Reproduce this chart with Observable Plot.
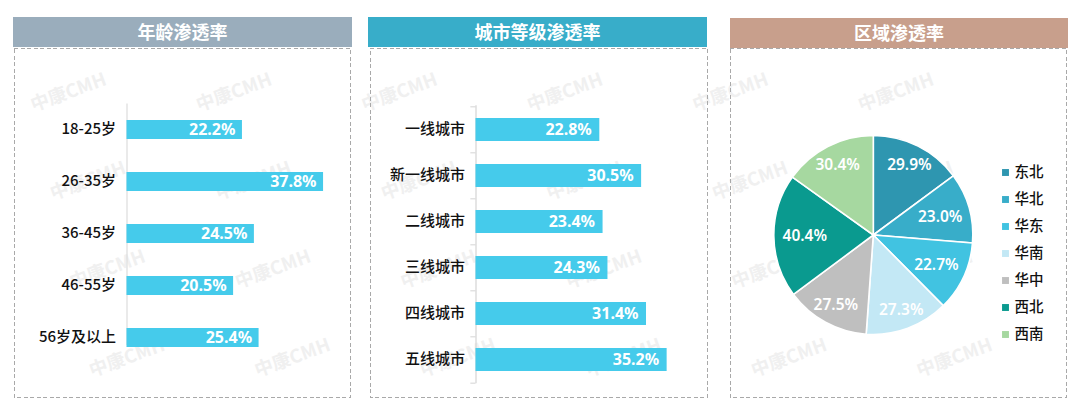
<!DOCTYPE html>
<html lang="zh">
<head>
<meta charset="utf-8">
<style>
html,body{margin:0;padding:0;background:#fff;}
#page{position:relative;width:1080px;height:410px;overflow:hidden;font-family:"Noto Sans CJK SC","Noto Sans",sans-serif;}
#page svg{position:absolute;top:0;background:transparent;overflow:visible;}
.head{position:absolute;height:30px;line-height:29px;text-align:center;color:#fff;font-size:18px;font-weight:700;}
</style>
</head>
<body>
<div id="page"></div>
<script src="https://cdn.jsdelivr.net/npm/d3@7"></script>
<script src="https://cdn.jsdelivr.net/npm/@observablehq/plot@0.6"></script>
<script>
// ---- data ----
const ageGroups = ["18-25岁", "26-35岁", "36-45岁", "46-55岁", "56岁及以上"];
const ageRates = [22.2, 37.8, 24.5, 20.5, 25.4];
const cityTiers = ["一线城市", "新一线城市", "二线城市", "三线城市", "四线城市", "五线城市"];
const cityRates = [22.8, 30.5, 23.4, 24.3, 31.4, 35.2];
const regions = ["东北", "华北", "华东", "华南", "华中", "西北", "西南"];
const regionRates = [29.9, 23.0, 22.7, 27.3, 27.5, 40.4, 30.4];
const titles = ["年龄渗透率", "城市等级渗透率", "区域渗透率"];
const watermark = "中康CMH";

// ---- styles ----
const barColor = "#45CBEB";
const regionColors = ["#2E96B0", "#38ADC9", "#41C3E1", "#C3E8F5", "#BFBFBF", "#0A9A8F", "#A6D8A0"];
const headColors = ["#9AADBC", "#38ADC9", "#C89F8C"];
const latin = "'Noto Sans','Noto Sans CJK SC',sans-serif";
const cjk = "'Noto Sans CJK SC','Noto Sans',sans-serif";
const page = document.getElementById("page");
const fmt = v => v.toFixed(1) + "%";

function place(el, left) { el.style.left = left + "px"; page.appendChild(el); return el; }

// ---- watermark and dashed panel frames, behind everything ----
const stamps = d3.cross(d3.range(0, 6), d3.range(0, 4)).map(([i, j]) => ({i, j}));
const frames = [{x1: 14, x2: 350}, {x1: 370, x2: 707}, {x1: 730, x2: 1066}];
place(Plot.plot({
  width: 1080, height: 410, margin: 0,
  x: {domain: [0, 1080], range: [0, 1080], axis: null},
  y: {domain: [0, 410], range: [0, 410], axis: null},
  marks: [
    Plot.text(stamps, {
      x: d => 68 + 165.5 * d.i + 19.5 * d.j,
      y: d => 92 + 88.5 * d.j,
      text: () => watermark, rotate: -20, fontSize: 18.5, fontWeight: 700,
      fill: "#f0f0f0", fontFamily: cjk
    }),
    Plot.rect(frames, {x1: "x1", x2: "x2", y1: () => 48, y2: () => 397,
      fill: "none", stroke: "#a9a9a9", strokeWidth: 1, strokeDasharray: "4,2.5", shapeRendering: "crispEdges"})
  ]
}), 0);

// ---- panel headings ----
[[13, 17, 339], [368, 17, 339], [730, 18, 338]].forEach(([l, t, w], k) => {
  const h = document.createElement("div");
  h.className = "head"; h.textContent = titles[k];
  h.style.cssText = `left:${l}px;top:${t}px;width:${w}px;background:${headColors[k]}`;
  page.appendChild(h);
});

// ---- age bars ----
const ageData = ageGroups.map((k, i) => ({k, v: ageRates[i]}));
place(Plot.plot({
  width: 360, height: 410,
  marginLeft: 126.5, marginTop: 103.5, marginBottom: 46.5, marginRight: 25.5,
  x: {domain: [0, 40], axis: null},
  y: {domain: ageGroups, paddingInner: 0.635, paddingOuter: 0.3175, label: null},
  style: {fontFamily: cjk},
  marks: [
    Plot.ruleX([0], {stroke: "#dcdcdc", strokeWidth: 1.2, insetBottom: 18.5}),
    Plot.barX(ageData, {x: "v", y: "k", fill: barColor}),
    Plot.axisY({tickSize: 0, tickPadding: 11, fontSize: 15, fontWeight: 500, fill: "#111", label: null, dy: -0.5}),
    Plot.text(ageData, {x: "v", y: "k", text: d => fmt(d.v), dx: -7, textAnchor: "end",
      fill: "#fff", fontSize: 16, fontWeight: 700, fontFamily: latin})
  ]
}), 0);

// ---- city bars ----
const cityData = cityTiers.map((k, i) => ({k, v: cityRates[i]}));
const halfStep = 23.17;
place(Plot.plot({
  width: 360, height: 410,
  marginLeft: 115.5, marginTop: 105.3, marginBottom: 26.7, marginRight: 27.3,
  x: {domain: [0, 40], axis: null},
  y: {domain: cityTiers, paddingInner: 0.51, paddingOuter: 0.255, label: null},
  style: {fontFamily: cjk},
  marks: [
    Plot.ruleX([0], {stroke: "#d4d4d4", strokeWidth: 1.2}),
    Plot.ruleY(cityTiers, {y: d => d, x1: -0.95, x2: 0, dy: -halfStep, stroke: "#d4d4d4"}),
    Plot.ruleY(cityTiers.slice(-1), {y: d => d, x1: -0.95, x2: 0, dy: halfStep, stroke: "#d4d4d4"}),
    Plot.barX(cityData, {x: "v", y: "k", fill: barColor}),
    Plot.axisY({tickSize: 0, tickPadding: 11, fontSize: 15, fontWeight: 500, fill: "#111", label: null, dy: -0.5}),
    Plot.text(cityData, {x: "v", y: "k", text: d => fmt(d.v), dx: -8, textAnchor: "end",
      fill: "#fff", fontSize: 16, fontWeight: 700, fontFamily: latin})
  ]
}), 360);

// ---- region pie ----
const pieLayout = d3.pie().sort(null).value(d => d.v);
const pieData = pieLayout(regions.map((k, i) => ({k, v: regionRates[i]})));
const pieColor = Plot.scale({color: {domain: regions, range: regionColors}});
const R = 99.5;
const labelPoint = s => {
  const a = (s.startAngle + s.endAngle) / 2;
  // wide labels sit further in where they approach the sides of the circle
  const r = Math.abs(Math.sin(a)) > 0.8 ? 69 : 79;
  return {x: r * Math.sin(a), y: r * Math.cos(a)};
};
const slices = (index, {x, y}) => {
  const arc = d3.arc().innerRadius(0).outerRadius(x(R) - x(0));
  const g = d3.create("svg:g").attr("transform", `translate(${x(0)},${y(0)})`);
  g.selectAll("path").data(pieData).join("path")
    .attr("d", arc).attr("fill", d => pieColor.apply(d.data.k))
    .attr("stroke", "#fff").attr("stroke-width", 1.6);
  return g.node();
};
place(Plot.plot({
  width: 270, height: 410, margin: 0,
  x: {domain: [-R, R], range: [153.3 - R, 153.3 + R], axis: null},
  y: {domain: [-R, R], range: [235 + R, 235 - R], axis: null},
  marks: [
    slices,
    Plot.text(pieData, {x: d => labelPoint(d).x, y: d => labelPoint(d).y, text: d => fmt(d.data.v),
      fill: "#fff", fontSize: 15.5, fontWeight: 600, fontFamily: latin})
  ]
}), 720);

// ---- legend ----
place(Plot.plot({
  width: 90, height: 410, margin: 0,
  x: {domain: [0, 90], range: [0, 90], axis: null},
  y: {type: "point", domain: regions, range: [172, 334], padding: 0, axis: null},
  color: {domain: regions, range: regionColors},
  marks: [
    Plot.dot(regions, {x: () => 15, y: d => d, fill: d => d, symbol: "square", r: 3.9}),
    Plot.text(regions, {x: () => 24, y: d => d, text: d => d, textAnchor: "start",
      fontSize: 14.5, fontWeight: 500, fill: "#111", fontFamily: cjk})
  ]
}), 990);
</script>
</body>
</html>
